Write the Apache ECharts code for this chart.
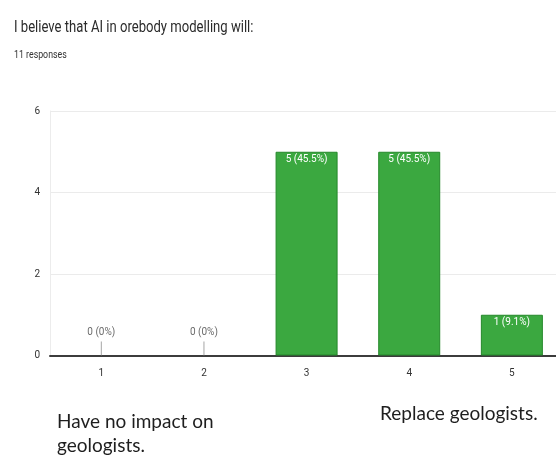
<!DOCTYPE html>
<html>
<head>
<meta charset="utf-8">
<script src="https://cdn.jsdelivr.net/npm/echarts@6/dist/echarts.min.js"></script>
<style>
html,body{margin:0;padding:0;background:#fff;}
#chart{width:556px;height:455px;}
</style>
</head>
<body>
<div id="chart"></div>
<script>
// Survey answers on a 1–5 scale
const scaleLabels = ['1', '2', '3', '4', '5'];
const scaleValues = [1, 2, 3, 4, 5];
const responseCounts = [0, 0, 5, 5, 1];
const responseLabels = ['0 (0%)', '0 (0%)', '5 (45.5%)', '5 (45.5%)', '1 (9.1%)'];
const yTicks = [0, 2, 4, 6];

const condensed = 'Roboto, "DejaVu Sans", sans-serif';

// non-zero answers are bars, zero answers get a thin stem with the label above it
const barData = scaleValues.map((x, i) => ({
  value: [x, responseCounts[i]],
  label: { show: responseCounts[i] > 0, formatter: responseLabels[i] },
  itemStyle: responseCounts[i] > 0 ? {} : { borderWidth: 0, opacity: 0 }
}));
const zeroData = scaleValues
  .map((x, i) => ({ x, i }))
  .filter(d => responseCounts[d.i] === 0)
  .map(d => ({ value: [d.x, 0], label: { formatter: responseLabels[d.i] } }));

const chart = echarts.init(document.getElementById('chart'), null, { renderer: 'canvas' });
chart.setOption({
  animation: false,
  backgroundColor: '#ffffff',
  graphic: [
    {
      type: 'text', x: 14, y: 19, scaleX: 0.77,
      style: { text: 'I believe that AI in orebody modelling will:', font: '17px Roboto, sans-serif', fill: '#2b2b2b' }
    },
    {
      type: 'text', x: 14, y: 50, scaleX: 0.8,
      style: { text: '11 responses', font: '11px Roboto, sans-serif', fill: '#333' }
    },
    {
      type: 'text', x: 57, y: 410,
      style: { text: 'Have no impact on\ngeologists.', font: '19px Lato, "Open Sans", sans-serif', fill: '#1e1e1e', lineHeight: 24 }
    },
    {
      type: 'text', x: 380, y: 404,
      style: { text: 'Replace geologists.', font: '19px Lato, "Open Sans", sans-serif', fill: '#1e1e1e' }
    }
  ],
  grid: { left: 50, right: 0, top: 111, bottom: 99.5, containLabel: false },
  xAxis: {
    type: 'value',
    min: 0.5, max: 5.43,
    axisLine: { show: true, onZero: false, lineStyle: { color: '#3c3c3c', width: 2 } },
    axisTick: { show: false },
    splitLine: { show: false },
    axisLabel: {
      customValues: scaleValues,
      formatter: v => scaleLabels[scaleValues.indexOf(v)] || '',
      fontFamily: condensed, fontSize: 10, color: '#333', margin: 13
    }
  },
  yAxis: {
    type: 'value',
    min: 0, max: 6, interval: 2,
    axisLine: { show: true, lineStyle: { color: '#ececec', width: 1 } },
    axisTick: { show: false },
    splitLine: { lineStyle: { color: '#ebebeb', width: 1 } },
    axisLabel: {
      fontFamily: condensed, fontSize: 10, color: '#333', margin: 10,
      formatter: v => yTicks.includes(v) ? String(v) : ''
    }
  },
  series: [
    {
      type: 'bar',
      data: barData,
      barWidth: 62,
      itemStyle: { color: '#3ba840', borderColor: '#24882a', borderWidth: 1 },
      label: {
        position: 'insideTop', distance: 3,
        color: '#ffffff', fontFamily: condensed, fontSize: 10
      },
      z: 3
    },
    {
      type: 'scatter',
      data: zeroData,
      symbol: 'rect',
      symbolSize: [1, 14],
      symbolOffset: [0, -7],
      itemStyle: { color: '#8f8f8f' },
      label: {
        show: true, position: 'top', distance: 4,
        color: '#444', fontFamily: condensed, fontSize: 10
      },
      silent: true,
      z: 4
    }
  ]
});
</script>
</body>
</html>
